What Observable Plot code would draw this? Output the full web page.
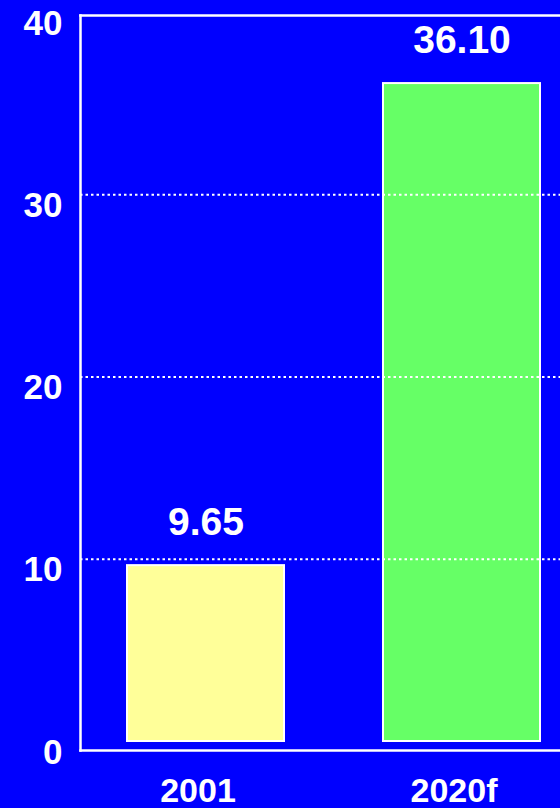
<!DOCTYPE html>
<html>
<head>
<meta charset="utf-8">
<script src="https://cdn.jsdelivr.net/npm/d3@7"></script>
<script src="https://cdn.jsdelivr.net/npm/@observablehq/plot@0.6"></script>
<style>
  html, body { margin: 0; padding: 0; background: #0000FF; }
  #chart svg { display: block; }
</style>
</head>
<body>
<div id="chart"></div>
<script>
const years = ["2001", "2020f"];
const values = [9.65, 36.10];
const valueLabels = ["9.65", "36.10"];
const barColors = ["#FFFF99", "#66FF66"];
const yTicks = [0, 10, 20, 30, 40];
const gridValues = [10, 20, 30];

const data = years.map((year, i) => ({ year, value: values[i], label: valueLabels[i], color: barColors[i] }));

const font = "'Liberation Sans', Arial, Helvetica, sans-serif";

const chart = Plot.plot({
  width: 560,
  height: 808,
  marginTop: 15,
  marginBottom: 58,
  marginLeft: 80,
  marginRight: 0,
  style: { background: "#0000FF", color: "white", fontFamily: font, fontWeight: "bold", overflow: "visible" },
  x: { domain: years, range: [127, 540], paddingInner: 0.387, paddingOuter: 0, label: null },
  y: { type: "linear", domain: [0, 40], range: [741, 12], label: null },
  marks: [
    Plot.barY(data, { x: "year", y1: 0, y2: "value", fill: d => d.color, stroke: "white", strokeWidth: 2 }),
    Plot.ruleY(gridValues, { stroke: "white", strokeWidth: 2, strokeDasharray: "2.5,3" }),
    Plot.text(data, { x: "year", y: "value", text: "label", fill: "white", fontSize: 39, fontWeight: "bold", lineAnchor: "middle", dy: -43 }),
    Plot.frame({ anchor: "top", stroke: "white", strokeWidth: 2.5 }),
    Plot.frame({ anchor: "left", stroke: "white", strokeWidth: 2.5 }),
    Plot.frame({ anchor: "bottom", stroke: "white", strokeWidth: 2.5 }),
    Plot.axisY(yTicks, { tickSize: 0, tickPadding: 18, fontSize: 35, fontWeight: "bold", fill: "white", dy: 11, label: null }),
    Plot.axisX({ tickSize: 0, tickPadding: 27, fontSize: 34, fontWeight: "bold", fill: "white", label: null, dx: -8 })
  ]
});

document.getElementById("chart").appendChild(chart);
</script>
</body>
</html>
